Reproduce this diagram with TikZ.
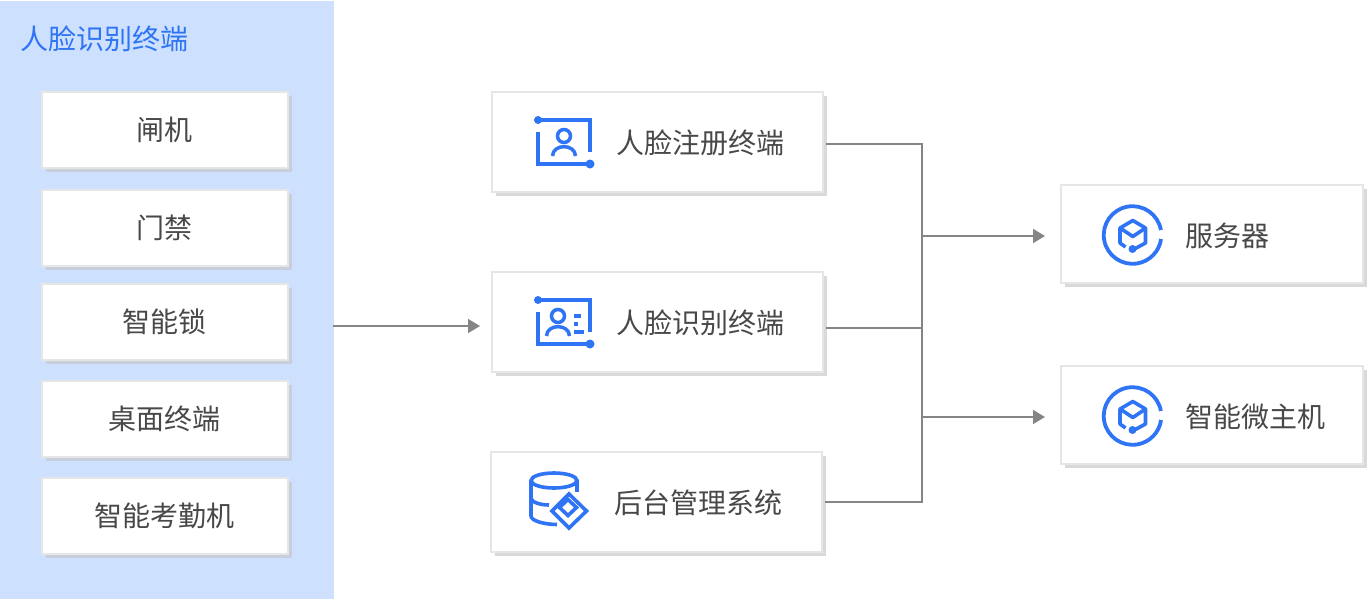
\documentclass[tikz,border=0pt]{standalone}
\usepackage{fontspec}
\setmainfont{Noto Sans CJK SC}
\usetikzlibrary{shadows,arrows.meta}
\definecolor{panel}{HTML}{CDE1FF}
\definecolor{iconblue}{HTML}{2F74F5}
\definecolor{txt}{HTML}{484848}
\definecolor{boxline}{HTML}{E6E6E6}
\definecolor{wire}{HTML}{858585}
\definecolor{shadowA}{HTML}{C8CFDB}
\definecolor{shadowB}{HTML}{D9D9D9}
\newcommand{\liftlbl}[1]{\raisebox{1.2pt}{#1}}
\tikzset{
 x=1pt,y=-1pt,
 boxbase/.style={draw=boxline,fill=white,line width=2pt,inner sep=0pt,anchor=north west,font=\fontsize{28}{28}\selectfont,text=txt},
 leftbox/.style={boxbase,minimum width=246pt,minimum height=76pt,drop shadow={shadow xshift=4pt,shadow yshift=-4pt,fill=shadowA,opacity=1}},
 midbox/.style={boxbase,minimum width=331pt,minimum height=100pt,drop shadow={shadow xshift=4pt,shadow yshift=-4pt,fill=shadowB,opacity=1}},
 rightbox/.style={boxbase,minimum width=302pt,minimum height=98pt,drop shadow={shadow xshift=4pt,shadow yshift=-4pt,fill=shadowB,opacity=1}},
 lbl/.style={font=\fontsize{28}{28}\selectfont,text=txt,inner sep=0pt},
 wireline/.style={draw=wire,line width=1.6pt},
 arrowline/.style={wireline,-{Triangle[length=12pt,width=14pt]}},
 icon/.style={draw=iconblue,line width=4pt},
 dot/.style={fill=iconblue},
}
\begin{document}
\begin{tikzpicture}
\useasboundingbox (0,0) rectangle (1368,600);
\fill[white] (0,0) rectangle (1368,600);
\fill[panel] (0,1) rectangle (334,599);
\node[inner sep=0pt,font=\fontsize{28}{28}\selectfont,text=iconblue] (title) at (104.5,39) {人脸识别终端};

\node[leftbox] (a1) at (40.5,91) {\liftlbl{闸机}};
\node[leftbox] (a2) at (40.5,189) {\liftlbl{门禁}};
\node[leftbox] (a3) at (40.5,283) {\liftlbl{智能锁}};
\node[leftbox] (a4) at (40.5,380) {\liftlbl{桌面终端}};
\node[leftbox] (a5) at (40.5,477) {\liftlbl{智能考勤机}};

\node[midbox] (reg) at (490.5,91) {};
\node[midbox] (rec) at (490.5,271) {};
\node[midbox] (sys) at (489.5,451) {};
\node[rightbox] (srv) at (1059.5,184) {};
\node[rightbox] (host) at (1059.5,365) {};

\node[lbl] (regt) at (700.5,143) {人脸注册终端};
\node[lbl] (rect) at (700.5,323) {人脸识别终端};
\node[lbl] (syst) at (698.5,503) {后台管理系统};
\node[lbl] (srvt) at (1227,236) {服务器};
\node[lbl] (hostt) at (1255,417) {智能微主机};

% connectors
\coordinate (inrec) at (480,326);
\coordinate (panelout) at (333,326);
\coordinate (j1) at (922,144);
\coordinate (j2) at (922,328);
\coordinate (j3) at (922,502);
\coordinate (js) at (922,236);
\coordinate (jh) at (922,417);
\coordinate (regout) at (826,144);
\coordinate (recout) at (826,328);
\coordinate (sysout) at (825,502);
\coordinate (srvin) at (1045,236);
\coordinate (hostin) at (1045,417);
\draw[arrowline] (panelout) -- (inrec);
\draw[wireline,line join=miter] (regout) -- (j1) -- (j3) -- (sysout);
\draw[wireline] (recout) -- (j2);
\draw[arrowline] (js) -- (srvin);
\draw[arrowline] (jh) -- (hostin);

% icon: register
\draw[icon] (538,120) -- (590,120) -- (590,152);
\draw[icon] (538,132) -- (538,164) -- (590,164);
\fill[dot] (538,120) circle (4);
\fill[dot] (590,164) circle (4.5);
\draw[icon,line width=3.5pt] (564,136) circle (6.5);
\draw[icon,line width=3.5pt] (552.5,156) .. controls (553,143.5) and (575,143.5) .. (575.5,156);

% icon: recognise
\draw[icon] (538,300) -- (590,300) -- (590,332);
\draw[icon] (538,312) -- (538,344) -- (590,344);
\fill[dot] (538,300) circle (4);
\fill[dot] (590,344) circle (4.5);
\draw[icon,line width=3.5pt] (558,316) circle (6.5);
\draw[icon,line width=3.5pt] (546.5,336) .. controls (547,323.5) and (569,323.5) .. (569.5,336);
\fill[dot] (574,314) rectangle (580.5,318);
\fill[dot] (574,322) rectangle (578,326);
\fill[dot] (574,330) rectangle (584,334);

% icon: database
\draw[icon,line width=3.6pt] (554,480.5) ellipse [x radius=23,y radius=7.5];
\draw[icon,line width=3.6pt] (531,480.5) -- (531,516) .. controls (531,521) and (545,524.5) .. (557,524.5);
\draw[icon,line width=3.6pt] (577,480.5) -- (577,492);
\draw[icon,line width=3.6pt] (531,498) .. controls (531,502) and (540,505) .. (549,505);
\draw[icon,line width=3.6pt,line join=miter] (569,494) -- (586.5,511) -- (569,528) -- (552,511) -- cycle;
\draw[icon,line width=3.6pt,line join=miter] (568,499.5) -- (576.5,507.5) -- (568,515.5) -- (559.5,507.5) -- cycle;

% icon: cube (server, host)
\foreach \dy in {0,181}{
\begin{scope}[shift={(0.5,\dy)}]
\draw[icon,line width=3.8pt] (1160.4,230) arc[start angle=-10,end angle=-352,radius=28.8];
\draw[icon,line width=3.6pt,line join=round] (1125,247) -- (1119.5,243) -- (1119.5,228) -- (1132.3,220.5) -- (1145,228) -- (1145,243) -- (1132,250);
\draw[icon,line width=3.6pt,line join=round] (1119.5,228) -- (1132.3,236.5) -- (1145,228);
\fill[dot] (1132,249) circle (4);
\end{scope}
}
\end{tikzpicture}
\end{document}
